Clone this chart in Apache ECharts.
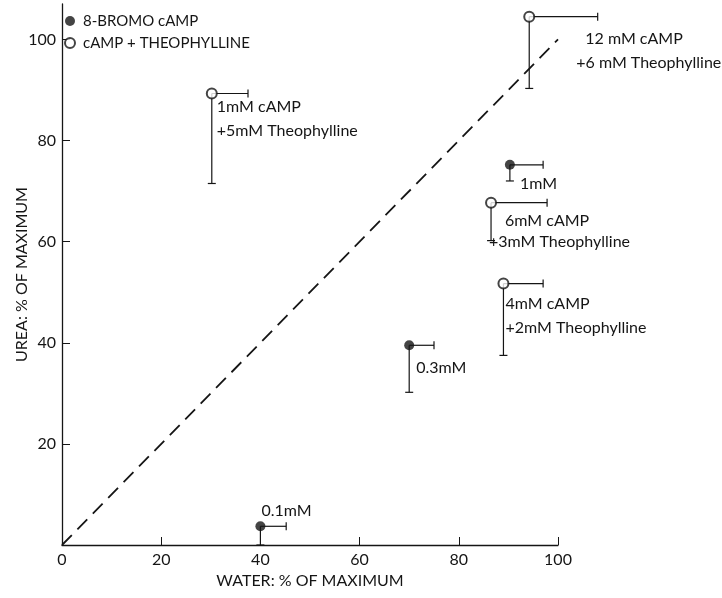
<!DOCTYPE html>
<html>
<head>
<meta charset="utf-8">
<script src="https://cdn.jsdelivr.net/npm/echarts@6/dist/echarts.min.js"></script>
<style>
  html, body { margin: 0; padding: 0; background: #fff; }
  #chart { width: 722px; height: 598px; }
</style>
</head>
<body>
<div id="chart"></div>
<script>
// ---- data ----
// 8-BROMO cAMP (filled points)
const bromoWater = [40, 70, 90.3];
const bromoUrea = [3.7, 39.5, 75.2];
const bromoWaterHi = [45.2, 75, 97];
const bromoUreaLo = [0, 30.2, 72];
const bromoLabels = [['0.1mM'], ['0.3mM'], ['1mM']];

// cAMP + THEOPHYLLINE (open points)
const theoWater = [30.2, 94.2, 86.5, 89];
const theoUrea = [89.3, 104.5, 67.7, 51.7];
const theoWaterHi = [37.5, 108, 97.8, 97];
const theoUreaLo = [71.5, 90.3, 60.2, 37.5];
const theoLabels = [
  ['1mM cAMP', '+5mM Theophylline'],
  ['12 mM cAMP', '+6 mM Theophylline'],
  ['6mM cAMP', '+3mM Theophylline'],
  ['4mM cAMP', '+2mM Theophylline']
];

const xTicks = [0, 20, 40, 60, 80, 100];
const yTicks = [20, 40, 60, 80, 100];
const identityLine = [[0, 0], [100, 100]];

// label placement (pixel offsets from the point, one per text line)
const bromoLabelPos = [[[1, -15]], [[7, 23]], [[10, 19]]];
const theoLabelPos = [
  [[5, 13], [5, 37]],
  [[56, 22], [47, 46]],
  [[14, 18], [-2, 39]],
  [[2, 20], [2, 44]]
];

const ink = '#151515';
const font = 'Lato, "DejaVu Sans", sans-serif';

function rows(xs, ys, xh, yl) {
  return xs.map(function (x, i) { return [x, ys[i], xh[i], yl[i], i]; });
}

function errorRender(labels, pos) {
  return function (params, api) {
    const p = api.coord([api.value(0), api.value(1)]);
    const hi = api.coord([api.value(2), api.value(1)]);
    const lo = api.coord([api.value(0), api.value(3)]);
    const idx = api.value(4);
    const ls = { stroke: ink, lineWidth: 1.2 };
    const kids = [
      { type: 'line', shape: { x1: p[0], y1: p[1], x2: hi[0], y2: hi[1] }, style: ls },
      { type: 'line', shape: { x1: hi[0], y1: hi[1] - 4, x2: hi[0], y2: hi[1] + 4 }, style: ls },
      { type: 'line', shape: { x1: p[0], y1: p[1], x2: lo[0], y2: lo[1] }, style: ls },
      { type: 'line', shape: { x1: lo[0] - 4, y1: lo[1], x2: lo[0] + 4, y2: lo[1] }, style: ls }
    ];
    labels[idx].forEach(function (t, j) {
      kids.push({
        type: 'text',
        x: p[0] + pos[idx][j][0],
        y: p[1] + pos[idx][j][1],
        style: { text: t, fill: ink, font: '16px ' + font, textAlign: 'left', textVerticalAlign: 'middle' }
      });
    });
    return { type: 'group', children: kids };
  };
}

const chart = echarts.init(document.getElementById('chart'));
chart.setOption({
  animation: false,
  backgroundColor: '#fff',
  textStyle: { fontFamily: font, color: ink },
  grid: { left: 62, right: 164, top: 4, bottom: 53, outerBoundsMode: 'none', containLabel: false },
  legend: {
    data: ['8-BROMO cAMP', 'cAMP + THEOPHYLLINE'],
    orient: 'vertical',
    left: 64,
    top: 12,
    padding: 0,
    itemWidth: 10,
    itemHeight: 10,
    itemGap: 4,
    textStyle: { fontSize: 15, color: ink, fontFamily: font, lineHeight: 18, padding: [0, 0, 0, 3] }
  },
  xAxis: {
    type: 'value',
    min: 0,
    max: 100,
    interval: 20,
    name: 'WATER: % OF MAXIMUM',
    nameLocation: 'middle',
    nameGap: 27,
    nameTextStyle: { fontSize: 16, color: ink },
    axisLine: { lineStyle: { color: ink, width: 1.3 } },
    axisTick: { inside: true, length: 8, customValues: xTicks, lineStyle: { color: ink } },
    axisLabel: { customValues: xTicks, fontSize: 16, color: ink, margin: 7 },
    splitLine: { show: false }
  },
  yAxis: {
    type: 'value',
    min: 0,
    max: 107,
    name: 'UREA: % OF MAXIMUM',
    nameLocation: 'middle',
    nameGap: 32,
    nameMoveOverlap: false,
    nameTextStyle: { fontSize: 16, color: ink },
    axisLine: { lineStyle: { color: ink, width: 1.3 } },
    axisTick: { inside: true, length: 8, customValues: yTicks, lineStyle: { color: ink } },
    axisLabel: { customValues: yTicks, fontSize: 16, color: ink, margin: 6 },
    splitLine: { show: false }
  },
  series: [
    {
      name: 'identity',
      type: 'line',
      data: identityLine,
      symbol: 'none',
      lineStyle: { color: ink, width: 1.8, type: [14, 8] },
      silent: true
    },
    {
      name: 'bromoBars',
      type: 'custom',
      renderItem: errorRender(bromoLabels, bromoLabelPos),
      data: rows(bromoWater, bromoUrea, bromoWaterHi, bromoUreaLo),
      encode: { x: 0, y: 1 },
      clip: false,
      z: 3
    },
    {
      name: 'theoBars',
      type: 'custom',
      renderItem: errorRender(theoLabels, theoLabelPos),
      data: rows(theoWater, theoUrea, theoWaterHi, theoUreaLo),
      encode: { x: 0, y: 1 },
      clip: false,
      z: 3
    },
    {
      name: '8-BROMO cAMP',
      type: 'scatter',
      data: bromoWater.map(function (x, i) { return [x, bromoUrea[i]]; }),
      symbol: 'circle',
      symbolSize: 10,
      itemStyle: { color: ink },
      z: 5
    },
    {
      name: 'cAMP + THEOPHYLLINE',
      type: 'scatter',
      data: theoWater.map(function (x, i) { return [x, theoUrea[i]]; }),
      symbol: 'emptyCircle',
      symbolSize: 10,
      itemStyle: { color: ink, borderWidth: 1.2 },
      z: 5
    }
  ]
});

window.onresize = function () {
  chart.resize();
};
</script>
</body>
</html>
